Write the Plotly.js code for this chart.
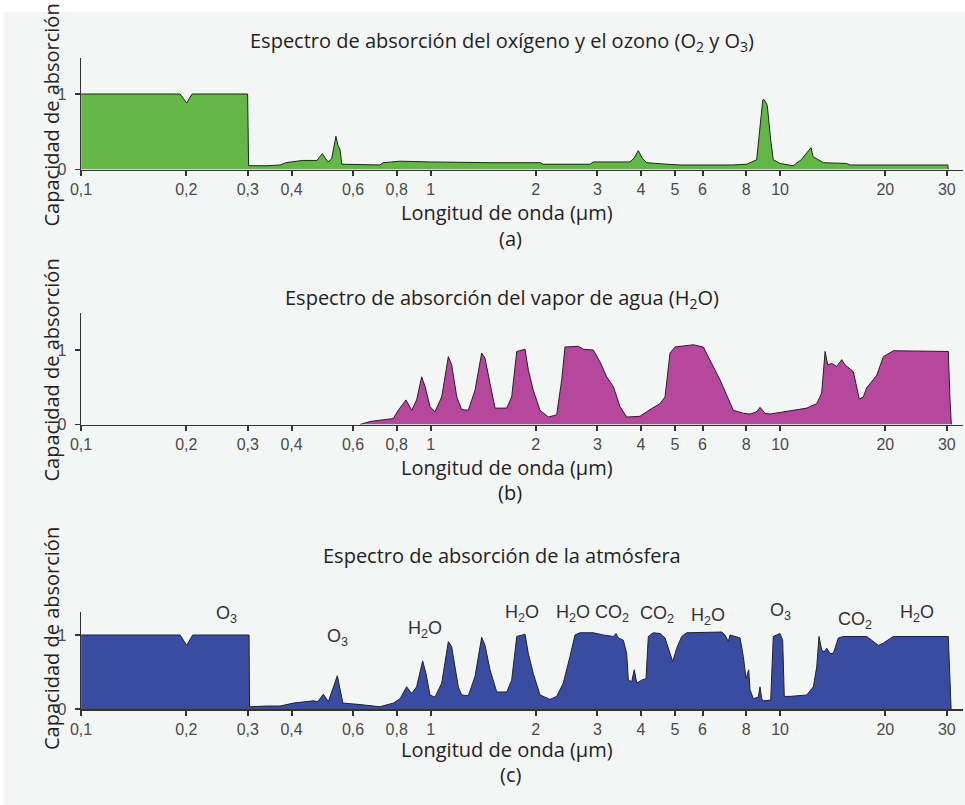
<!DOCTYPE html>
<html><head><meta charset="utf-8">
<script src="https://cdn.plot.ly/plotly-3.0.1.min.js"></script>
<style>html,body{margin:0;padding:0;background:#fff}#chart{width:965px;height:805px}</style>
</head><body><div id="chart"></div>
<script>
// ---------- DATA ----------
const tickValues = [0.1,0.2,0.3,0.4,0.6,0.8,1,2,3,4,5,6,8,10,20,30];
const tickLabels = ['0,1','0,2','0,3','0,4','0,6','0,8','1','2','3','4','5','6','8','10','20','30'];

// (a) O2 + O3
const wavelengthO2O3 = [0.1,0.192,0.2005,0.2076,0.2995,0.3015,0.34,0.371,0.385,0.404,0.43,0.473,0.49,0.5085,0.521,0.536,0.543,0.551,0.557,0.716,0.731,0.818,1.0,1.5,2.06,2.10,2.86,2.92,3.72,3.82,3.93,4.03,4.15,4.74,5.17,7.33,8.03,8.57,8.92,8.99,9.19,9.40,9.56,9.99,10.9,11.5,12.26,12.42,13.3,15.5,15.85,30.2,30.25];
const absorptionO2O3 = [1,1,0.88,1,1,0.05,0.05,0.06,0.09,0.10,0.12,0.12,0.21,0.10,0.14,0.44,0.32,0.26,0.07,0.06,0.09,0.11,0.10,0.09,0.09,0.07,0.07,0.10,0.10,0.15,0.25,0.15,0.09,0.07,0.06,0.06,0.07,0.13,0.92,0.93,0.85,0.39,0.13,0.08,0.05,0.13,0.29,0.17,0.09,0.08,0.06,0.06,0];

// (b) H2O
const wavelengthH2O = [0.628,0.671,0.782,0.808,0.850,0.883,0.912,0.943,0.964,0.996,1.029,1.076,1.124,1.149,1.188,1.227,1.282,1.340,1.400,1.431,1.479,1.529,1.651,1.706,1.764,1.863,1.904,1.967,2.056,2.172,2.295,2.372,2.424,2.646,2.735,2.921,3.053,3.190,3.332,3.483,3.640,3.972,4.244,4.533,4.685,4.842,5.005,5.646,6.030,6.302,6.730,7.346,7.848,8.202,8.571,8.760,9.054,9.357,10.67,11.92,12.73,13.15,13.45,13.69,14.05,14.52,15.01,15.34,16.20,16.57,16.85,17.30,17.69,18.90,19.74,21.08,30.29,30.63,30.9];
const absorptionH2O = [0,0.04,0.08,0.19,0.33,0.19,0.33,0.64,0.51,0.24,0.17,0.37,0.91,0.80,0.37,0.20,0.19,0.46,0.96,0.89,0.55,0.22,0.22,0.37,0.98,1.01,0.73,0.46,0.19,0.10,0.13,0.60,1.04,1.05,1.01,1.00,0.84,0.64,0.51,0.24,0.10,0.11,0.20,0.28,0.37,0.96,1.04,1.07,1.04,0.87,0.60,0.19,0.15,0.14,0.17,0.23,0.15,0.14,0.18,0.22,0.28,0.42,0.98,0.80,0.82,0.78,0.87,0.80,0.71,0.51,0.34,0.37,0.49,0.66,0.91,0.99,0.98,0.33,0];

// (c) atmosphere
const wavelengthAtm = [0.1,0.192,0.2005,0.2086,0.3024,0.3034,0.34,0.371,0.405,0.461,0.476,0.493,0.510,0.525,0.541,0.548,0.561,0.628,0.716,0.782,0.818,0.854,0.883,0.912,0.949,0.970,0.996,1.029,1.076,1.124,1.149,1.200,1.227,1.282,1.340,1.400,1.431,1.479,1.546,1.651,1.706,1.764,1.863,1.904,1.967,2.056,2.196,2.295,2.397,2.505,2.589,2.676,2.921,3.120,3.332,3.393,3.445,3.560,3.640,3.679,3.762,3.826,3.888,4.018,4.134,4.197,4.337,4.533,4.685,4.929,5.060,5.230,5.405,6.806,6.955,7.109,7.190,7.430,7.680,7.848,7.989,8.133,8.202,8.381,8.662,8.760,8.859,8.953,9.400,9.562,9.842,9.993,10.17,10.28,10.67,11.92,12.45,12.73,12.92,13.15,13.36,13.60,13.89,14.20,14.68,15.17,17.69,18.48,19.10,19.74,21.08,30.29,30.63,30.85];
const absorptionAtm = [1,1,0.86,1,1,0.03,0.04,0.04,0.08,0.11,0.10,0.20,0.10,0.26,0.45,0.32,0.08,0.06,0.03,0.08,0.14,0.30,0.21,0.30,0.65,0.48,0.19,0.16,0.35,0.91,0.84,0.30,0.19,0.18,0.44,0.97,0.86,0.53,0.23,0.23,0.39,0.98,1.01,0.75,0.48,0.19,0.13,0.17,0.35,0.71,1.0,1.03,1.03,1.0,0.98,1.02,0.96,0.93,0.75,0.39,0.37,0.53,0.35,0.39,0.41,0.98,1.03,1.02,0.96,0.64,0.82,0.98,1.03,1.04,1.0,0.91,1.0,0.98,0.96,0.71,0.41,0.53,0.26,0.14,0.16,0.30,0.14,0.11,0.12,0.98,1.0,1.02,0.93,0.17,0.17,0.19,0.30,0.57,0.98,0.80,0.77,0.82,0.75,0.75,0.96,0.98,0.98,0.91,0.86,0.89,0.98,0.98,0.35,0];

// gas labels in panel (c)
const gasLabels = ['O<sub>3</sub>','O<sub>3</sub>','H<sub>2</sub>O','H<sub>2</sub>O','H<sub>2</sub>O','CO<sub>2</sub>','CO<sub>2</sub>','H<sub>2</sub>O','O<sub>3</sub>','CO<sub>2</sub>','H<sub>2</sub>O'];
const gasLabelWavelength = [0.26,0.54,0.964,1.826,2.556,3.304,4.444,6.22,10.0,16.38,24.65];

const panelTitles = [
  'Espectro de absorción del oxígeno y el ozono (O<sub>2</sub> y O<sub>3</sub>)',
  'Espectro de absorción del vapor de agua (H<sub>2</sub>O)',
  'Espectro de absorción de la atmósfera'
];
const panelLetters = ['(a)','(b)','(c)'];
const xTitle = 'Longitud de onda (µm)';
const yTitle = 'Capacidad de absorción';

// ---------- LAYOUT ----------
const W = 965, H = 805;
const fx = p => p / W;
const fy = p => 1 - p / H;
const titleFont = {family: 'Open Sans, Noto Sans, sans-serif', size: 20, color: '#222'};
const tickFont = {family: 'Liberation Sans, Arial, sans-serif', size: 16, color: '#4a4a4a'};
const labelFont = {family: 'Liberation Sans, Arial, sans-serif', size: 18, color: '#333'};

const panels = [
  {top: 58, zero: 169.5, unit: 75.5, titleY: 41, xTitleY: 212, letterY: 238, yTitleY: 115.5},
  {top: 313, zero: 424.5, unit: 74.5, titleY: 298, xTitleY: 467, letterY: 492, yTitleY: 370.5},
  {top: 612, zero: 709, unit: 74, titleY: 555, xTitleY: 749, letterY: 774, yTitleY: 639}
];
const fills = ['#63b747', '#b5489c', '#3a4c9f'];
const xs = [wavelengthO2O3, wavelengthH2O, wavelengthAtm];
const ys = [absorptionO2O3, absorptionH2O, absorptionAtm];

const x0px = 81.1, decadePx = 349.5, rightPx = 963;
const xRange = [-1, -1 + (rightPx - x0px) / decadePx];

const traces = [];
const layout = {
  width: W, height: H,
  margin: {l: 0, r: 0, t: 0, b: 0},
  paper_bgcolor: '#ffffff',
  plot_bgcolor: 'rgba(0,0,0,0)',
  showlegend: false,
  shapes: [{type: 'rect', xref: 'paper', yref: 'paper', x0: fx(4), x1: 1, y0: 0, y1: fy(12),
            fillcolor: '#f4f6f6', line: {width: 0}, layer: 'below'}],
  annotations: []
};

panels.forEach((p, i) => {
  const n = i === 0 ? '' : String(i + 1);
  traces.push({
    type: 'scatter', mode: 'lines', x: xs[i], y: ys[i],
    xaxis: 'x' + n, yaxis: 'y' + n,
    fill: 'tozeroy', fillcolor: fills[i],
    line: {color: '#222', width: 1}, hoverinfo: 'skip'
  });
  layout['xaxis' + n] = {
    type: 'log', range: xRange, domain: [fx(x0px), fx(rightPx)], anchor: 'y' + n,
    tickmode: 'array', tickvals: tickValues, ticktext: tickLabels,
    ticks: 'outside', ticklen: 5, tickwidth: 2, tickcolor: '#333',
    showline: true, linecolor: '#333', linewidth: 1.5,
    showgrid: false, zeroline: false, tickfont: tickFont, fixedrange: true
  };
  layout['yaxis' + n] = {
    range: [0, (p.zero - p.top) / p.unit], domain: [fy(p.zero), fy(p.top)], anchor: 'x' + n,
    tickmode: 'array', tickvals: [0, 1], ticktext: ['0', '1'],
    ticks: 'outside', ticklen: 5, tickwidth: 1.5, tickcolor: '#333', ticklabelstandoff: 5,
    showline: true, linecolor: '#333', linewidth: 1.5,
    showgrid: false, zeroline: false, tickfont: tickFont, fixedrange: true
  };
  layout.annotations.push(
    {text: panelTitles[i], xref: 'paper', yref: 'paper', x: fx(502), y: fy(p.titleY),
     xanchor: 'center', yanchor: 'middle', showarrow: false, font: titleFont},
    {text: xTitle, xref: 'paper', yref: 'paper', x: fx(507), y: fy(p.xTitleY),
     xanchor: 'center', yanchor: 'middle', showarrow: false, font: titleFont},
    {text: panelLetters[i], xref: 'paper', yref: 'paper', x: fx(510), y: fy(p.letterY),
     xanchor: 'center', yanchor: 'middle', showarrow: false, font: titleFont},
    {text: yTitle, xref: 'paper', yref: 'paper', x: fx(51), y: fy(p.yTitleY), textangle: -90,
     xanchor: 'center', yanchor: 'middle', showarrow: false, font: titleFont}
  );
});

const labelYpx = [614, 637, 629, 613, 613, 613, 614, 616, 611, 620, 613];
gasLabels.forEach((t, k) => {
  layout.annotations.push({text: t, xref: 'x3', yref: 'paper', x: Math.log10(gasLabelWavelength[k]),
    y: fy(labelYpx[k]), xanchor: 'center', yanchor: 'middle', showarrow: false, font: labelFont});
});

Plotly.newPlot('chart', traces, layout, {staticPlot: true, displayModeBar: false});
</script>
</body></html>
